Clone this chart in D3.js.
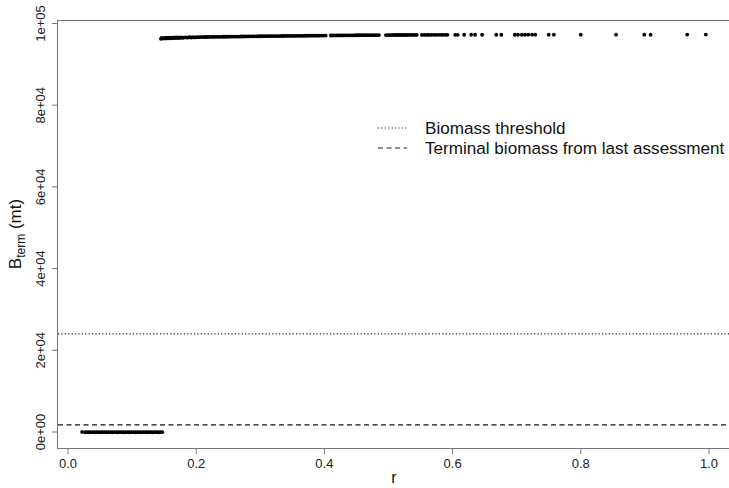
<!DOCTYPE html>
<html>
<head>
<meta charset="utf-8">
<script src="https://cdn.jsdelivr.net/npm/d3@7"></script>
<style>
  body { margin: 0; background: #fff; }
  svg { display: block; font-family: "Liberation Sans", Arial, sans-serif; }
</style>
</head>
<body>
<div id="chart"></div>
<script>
// x axis (r) and y axis (B_term) ticks
var xTicks = [0, 0.2, 0.4, 0.6, 0.8, 1.0];
var xTickLabels = ["0.0", "0.2", "0.4", "0.6", "0.8", "1.0"];
var yTicks = [0, 20000, 40000, 60000, 80000, 100000];
var yTickLabels = ["0e+00", "2e+04", "4e+04", "6e+04", "8e+04", "1e+05"];

// reference lines
var biomassThreshold = 24000;
var terminalBiomass = 1750;

// low r runs that crash: [r, B]
var lowRuns = [
  [0.022, 0], [0.027, -60], [0.030, -40], [0.033, -60], [0.036, -50], [0.039, -40],
  [0.042, -60], [0.045, -50], [0.048, -40], [0.051, -60], [0.054, -50], [0.057, -40],
  [0.060, -60], [0.063, -50], [0.066, -40], [0.069, -60], [0.072, -50], [0.075, -40],
  [0.078, -60], [0.081, -50], [0.084, -40], [0.087, -60], [0.090, -50], [0.093, -40],
  [0.096, -60], [0.099, -50], [0.102, -40], [0.105, -60], [0.108, -50], [0.111, -40],
  [0.114, -60], [0.117, -50], [0.120, -40], [0.123, -60], [0.126, -50], [0.129, -40],
  [0.132, -60], [0.135, -50], [0.138, -40], [0.141, -60], [0.144, -50], [0.147, -40]
];

// higher r runs that stay near carrying capacity: [r, B]
var highRuns = [
  [0.145, 96250], [0.146, 96450], [0.148, 96300], [0.150, 96500], [0.152, 96320],
  [0.154, 96520], [0.156, 96350], [0.158, 96540], [0.160, 96380], [0.162, 96560],
  [0.164, 96400], [0.166, 96570], [0.168, 96430], [0.170, 96590], [0.172, 96450],
  [0.174, 96600], [0.176, 96480], [0.178, 96610], [0.180, 96500], [0.183, 96620],
  [0.186, 96540], [0.189, 96630], [0.192, 96570], [0.195, 96640], [0.198, 96600],
  [0.201, 96650], [0.204, 96660], [0.207, 96670], [0.210, 96680], [0.213, 96690],
  [0.216, 96700], [0.219, 96700], [0.222, 96710], [0.225, 96720], [0.228, 96720],
  [0.231, 96730], [0.234, 96740], [0.237, 96740], [0.240, 96750], [0.243, 96760],
  [0.246, 96760], [0.249, 96770], [0.252, 96780], [0.255, 96780], [0.258, 96790],
  [0.261, 96800], [0.264, 96800], [0.267, 96810], [0.270, 96820], [0.273, 96820],
  [0.276, 96830], [0.279, 96840], [0.282, 96840], [0.285, 96850], [0.288, 96860],
  [0.291, 96860], [0.294, 96870], [0.297, 96880], [0.300, 96880], [0.303, 96890],
  [0.306, 96890], [0.309, 96900], [0.312, 96900], [0.315, 96910], [0.318, 96910],
  [0.321, 96920], [0.324, 96920], [0.327, 96930], [0.330, 96930], [0.333, 96940],
  [0.336, 96940], [0.339, 96950], [0.342, 96950], [0.345, 96960], [0.348, 96960],
  [0.351, 96970], [0.354, 96970], [0.357, 96980], [0.360, 96980], [0.363, 96990],
  [0.366, 96990], [0.369, 97000], [0.372, 97000], [0.375, 97010], [0.378, 97010],
  [0.381, 97020], [0.384, 97020], [0.387, 97030], [0.390, 97030], [0.393, 97040],
  [0.396, 97040], [0.399, 97050], [0.402, 97050],
  [0.410, 97060], [0.413, 97060], [0.416, 97070], [0.419, 97070], [0.422, 97080],
  [0.425, 97080], [0.428, 97090], [0.431, 97090], [0.434, 97100], [0.437, 97100],
  [0.440, 97100], [0.443, 97110], [0.446, 97110], [0.449, 97120], [0.452, 97120],
  [0.455, 97120], [0.458, 97130], [0.461, 97130], [0.464, 97130], [0.467, 97140],
  [0.470, 97140], [0.473, 97140], [0.476, 97150], [0.479, 97150], [0.482, 97150],
  [0.485, 97160],
  [0.496, 97160], [0.499, 97170], [0.502, 97170], [0.505, 97170], [0.508, 97180],
  [0.511, 97180], [0.514, 97180], [0.517, 97180], [0.520, 97190], [0.523, 97190],
  [0.526, 97190], [0.529, 97190], [0.532, 97200], [0.535, 97200], [0.538, 97200],
  [0.541, 97200], [0.544, 97200],
  [0.552, 97210], [0.556, 97210], [0.560, 97210], [0.563, 97210], [0.567, 97220],
  [0.571, 97220], [0.574, 97220], [0.578, 97220], [0.582, 97220], [0.585, 97230],
  [0.589, 97230], [0.592, 97230],
  [0.604, 97230], [0.608, 97230], [0.618, 97240], [0.629, 97240], [0.635, 97240],
  [0.646, 97240], [0.668, 97250], [0.676, 97250], [0.697, 97250], [0.702, 97250],
  [0.708, 97250], [0.713, 97250], [0.718, 97260], [0.724, 97260], [0.729, 97260],
  [0.750, 97260], [0.758, 97260], [0.800, 97270], [0.855, 97270], [0.899, 97270],
  [0.909, 97270], [0.966, 97280], [0.995, 97280]
];

var legendItems = [
  { label: "Biomass threshold", dash: "1.2,2.2" },
  { label: "Terminal biomass from last assessment", dash: "5,3.5" }
];

var W = 729, H = 488;
var box = { left: 57, top: 20, right: 731, bottom: 448 };

var svg = d3.select("#chart").append("svg")
    .attr("width", W)
    .attr("height", H);

var x = d3.scaleLinear().domain([0, 1]).range([68, 709]);
var y = d3.scaleLinear().domain([0, 100000]).range([432, 23.5]);

// plot frame
svg.append("rect")
    .attr("x", box.left + 0.5)
    .attr("y", box.top + 0.5)
    .attr("width", box.right - box.left)
    .attr("height", box.bottom - box.top)
    .attr("fill", "none")
    .attr("stroke", "#777")
    .attr("stroke-width", 1);

// x axis ticks
var xAxis = svg.append("g").attr("id", "xAxis");
xAxis.selectAll("line.tick")
    .data(xTicks)
    .enter().append("line")
    .attr("class", "tick")
    .attr("x1", function(d){ return x(d); })
    .attr("x2", function(d){ return x(d); })
    .attr("y1", box.bottom + 0.5)
    .attr("y2", box.bottom + 6)
    .attr("stroke", "#777");
xAxis.selectAll("text")
    .data(xTicks)
    .enter().append("text")
    .attr("x", function(d){ return x(d); })
    .attr("y", 468)
    .attr("text-anchor", "middle")
    .attr("font-size", 13)
    .attr("fill", "#222")
    .text(function(d, i){ return xTickLabels[i]; });

// y axis ticks
var yAxis = svg.append("g").attr("id", "yAxis");
yAxis.selectAll("line.tick")
    .data(yTicks)
    .enter().append("line")
    .attr("class", "tick")
    .attr("x1", box.left + 0.5)
    .attr("x2", box.left - 5)
    .attr("y1", function(d){ return y(d); })
    .attr("y2", function(d){ return y(d); })
    .attr("stroke", "#777");
yAxis.selectAll("text")
    .data(yTicks)
    .enter().append("text")
    .attr("transform", function(d){ return "translate(45," + y(d) + ") rotate(-90)"; })
    .attr("text-anchor", "middle")
    .attr("font-size", 13)
    .attr("fill", "#222")
    .text(function(d, i){ return yTickLabels[i]; });

// axis titles
svg.append("text")
    .attr("x", (box.left + box.right) / 2)
    .attr("y", 483)
    .attr("text-anchor", "middle")
    .attr("font-size", 16)
    .attr("fill", "#111")
    .text("r");

var yTitle = svg.append("text")
    .attr("transform", "translate(21,234) rotate(-90)")
    .attr("text-anchor", "middle")
    .attr("font-size", 17)
    .attr("fill", "#111");
yTitle.append("tspan").text("B");
yTitle.append("tspan").attr("font-size", 12).attr("dy", 4).text("term");
yTitle.append("tspan").attr("dy", -4).text(" (mt)");

// reference lines
var lines = svg.append("g").attr("id", "refLines");
lines.append("line")
    .attr("x1", box.left + 1).attr("x2", W)
    .attr("y1", y(biomassThreshold)).attr("y2", y(biomassThreshold))
    .attr("stroke", "#222")
    .attr("stroke-width", 1.2)
    .attr("stroke-dasharray", legendItems[0].dash);
lines.append("line")
    .attr("x1", box.left + 1).attr("x2", W)
    .attr("y1", y(terminalBiomass)).attr("y2", y(terminalBiomass))
    .attr("stroke", "#111")
    .attr("stroke-width", 1.2)
    .attr("stroke-dasharray", legendItems[1].dash);

// points
var pts = svg.append("g").attr("id", "points");
pts.selectAll("circle.low")
    .data(lowRuns)
    .enter().append("circle")
    .attr("class", "low")
    .attr("cx", function(d){ return x(d[0]); })
    .attr("cy", function(d){ return y(d[1]); })
    .attr("r", 1.9)
    .attr("fill", "#000");
pts.selectAll("circle.high")
    .data(highRuns)
    .enter().append("circle")
    .attr("class", "high")
    .attr("cx", function(d){ return x(d[0]); })
    .attr("cy", function(d){ return y(d[1]); })
    .attr("r", 1.9)
    .attr("fill", "#000");

// legend, no box
var legend = svg.append("g").attr("id", "legend");
legendItems.forEach(function(item, i){
    var ly = 128 + i * 20;
    legend.append("line")
        .attr("x1", 378).attr("x2", 407)
        .attr("y1", ly).attr("y2", ly)
        .attr("stroke", "#222")
        .attr("stroke-width", 1.2)
        .attr("stroke-dasharray", item.dash);
    legend.append("text")
        .attr("x", 425)
        .attr("y", ly + 6)
        .attr("font-size", 17.1)
        .attr("fill", "#111")
        .text(item.label);
});
</script>
</body>
</html>
